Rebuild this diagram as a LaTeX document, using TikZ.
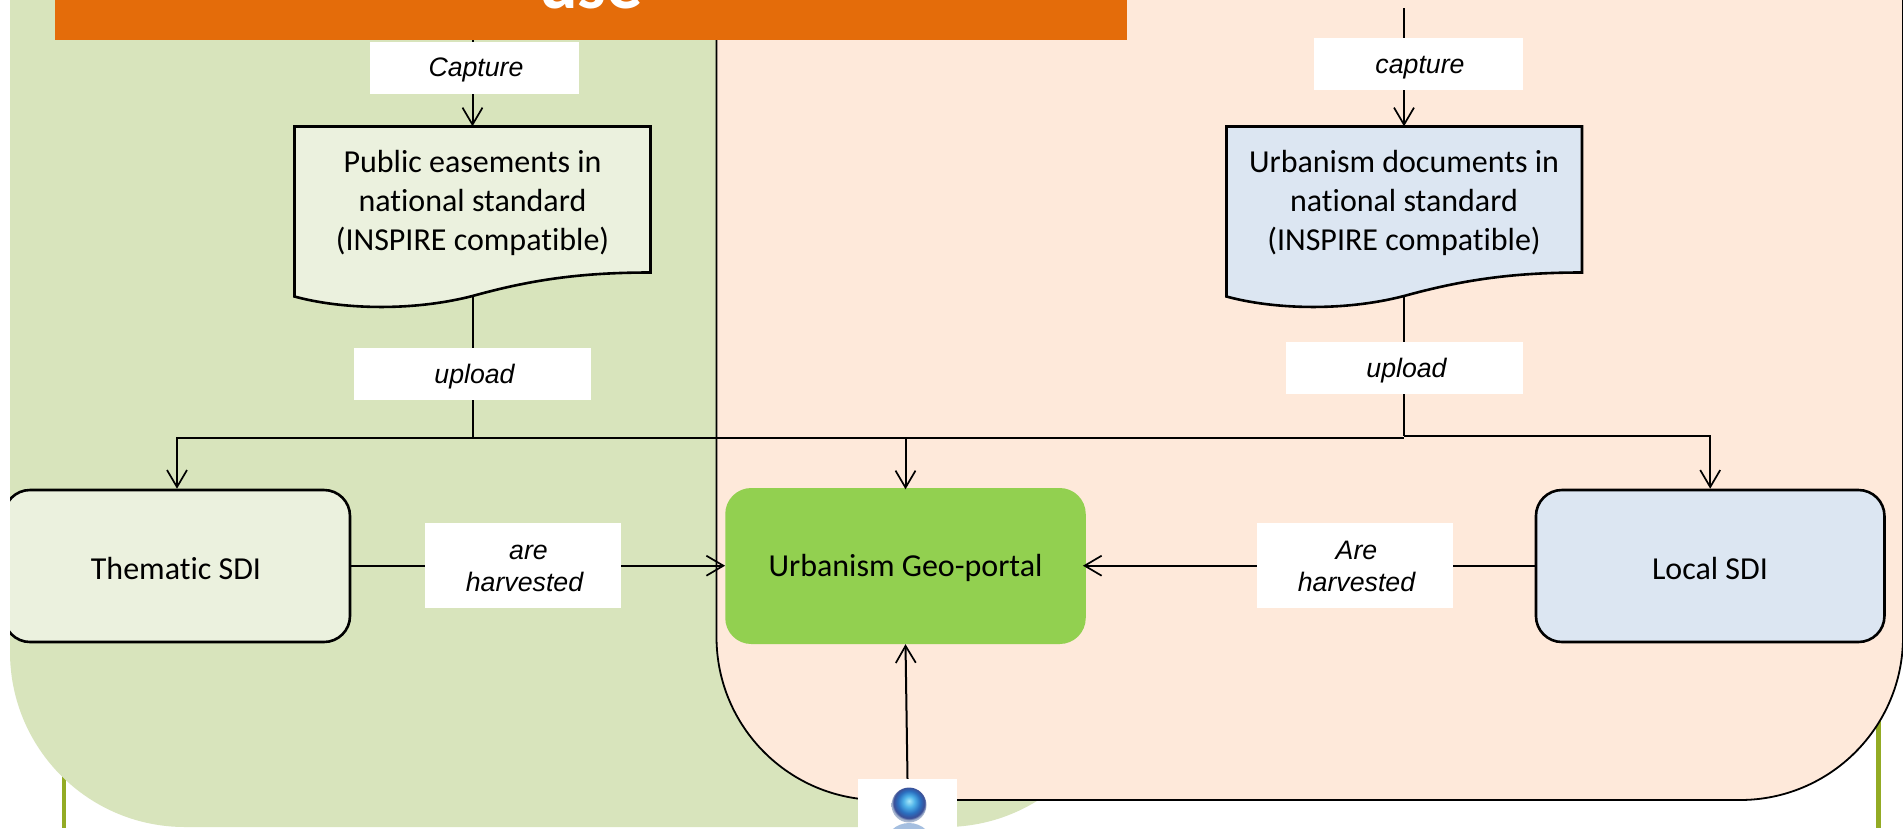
\documentclass[tikz,border=0pt]{standalone}
\usepackage{fontspec}
\setmainfont[Ligatures=NoCommon]{Carlito}
\newfontfamily\labelfont{Liberation Sans}
\usetikzlibrary{arrows.meta}
\definecolor{panelgreen}{HTML}{D8E4BC}
\definecolor{panelpeach}{HTML}{FEE9DA}
\definecolor{titleorange}{HTML}{E46C0A}
\definecolor{boxgreen}{HTML}{EBF1DE}
\definecolor{boxblue}{HTML}{DCE6F2}
\definecolor{portalgreen}{HTML}{92D050}
\definecolor{railgreen}{HTML}{93AB24}
\definecolor{ballhi}{HTML}{A8E8FA}
\definecolor{ballmid}{HTML}{4FB2E8}
\definecolor{balllow}{HTML}{2A6FC0}
\definecolor{balledge}{HTML}{3A4E96}
\definecolor{ballrim}{HTML}{A9B8D0}
\definecolor{userbody}{HTML}{A5BFE0}
\pgfdeclareradialshading{userball}{\pgfpoint{0bp}{6bp}}{%
  color(0bp)=(ballhi);
  color(8bp)=(ballmid);
  color(16bp)=(balllow);
  color(22bp)=(balledge);
  color(25bp)=(ballrim);
  color(50bp)=(ballrim)}
\tikzset{
  x=1pt,y=-1pt,
  conn/.style={draw=black,line width=2pt},
  arr/.style={conn,-{Straight Barb[length=17pt,width=20pt,line width=1.7pt]}},
  lblbox/.style={fill=white,inner sep=0pt},
  lbl/.style={inner sep=0pt,align=center,font=\labelfont\itshape\fontsize{26.7}{32}\selectfont},
  boxtext/.style={align=center,font=\fontsize{32}{39}\selectfont,inner sep=0pt},
  sdi/.style={draw=black,line width=2.6pt,rounded corners=26pt,inner sep=0pt,minimum height=152pt},
  docshape/.style={draw=black,line width=2.6pt},
  docnode/.style={inner sep=0pt,minimum width=356pt,minimum height=170pt}
}
\begin{document}
\begin{tikzpicture}
\useasboundingbox (0,0) rectangle (1903,828);
\begin{scope}
\clip (0,0) rectangle (1903,828);
\fill[white] (0,0) rectangle (1903,828);
% rails
\fill[railgreen] (62,700) rectangle (66,828);
\fill[railgreen] (1875.5,700) rectangle (1880.5,828);
% panels
\fill[panelgreen,rounded corners=175pt] (10,-300) rectangle (1120,827);
\filldraw[fill=panelpeach,draw=black,line width=1.8pt,rounded corners=163pt] (716.5,-300) rectangle (1903,800);
\draw[panelpeach,line width=1pt] (1903,-10) -- (1903,500);
% title
\node[fill=titleorange,minimum width=1072pt,minimum height=60pt,inner sep=0pt] (title) at (591,10) {};
\node[text=white,font=\bfseries\fontsize{72}{72}\selectfont,anchor=base,inner sep=0pt] (titletext) at (591,8) {use};
% documents
\coordinate (capl) at (472.5,40);
\coordinate (capr) at (1404,8);
\node[docnode] (doc1) at (472.5,211.5) {};
\draw[docshape,fill=boxgreen] (294.5,126.5) -- (650.5,126.5) -- (650.5,272.5) .. controls (580,272.5) and (530,280) .. (472.5,296) .. controls (410,312) and (340,309) .. (294.5,296.5) -- cycle;
\node[boxtext] (doc1t) at (472.5,203) {Public easements in\\national standard\\(INSPIRE compatible)};
\node[docnode] (doc2) at (1404,211.5) {};
\draw[docshape,fill=boxblue] (1226.5,126.5) -- (1582,126.5) -- (1582,272.5) .. controls (1512,272.5) and (1462,280) .. (1404,296) .. controls (1342,312) and (1272,309) .. (1226.5,296.5) -- cycle;
\node[boxtext] (doc2t) at (1404,203) {Urbanism documents in\\national standard\\(INSPIRE compatible)};
% SDI boxes
\begin{scope}
\clip (10,400) rectangle (400,700);
\node[sdi,fill=boxgreen,minimum width=346pt] (thematic) at (177,566) {};
\end{scope}
\node[boxtext] (thematict) at (176,568) {Thematic SDI};
\node[sdi,fill=boxblue,minimum width=348.5pt] (local) at (1710.2,566) {};
\node[boxtext] (localt) at (1710,568) {Local SDI};
\node[fill=portalgreen,rounded corners=26pt,minimum width=360.5pt,minimum height=156pt,inner sep=0pt] (portal) at (905.5,566) {};
\node[boxtext] (portalt) at (905.5,568) {Urbanism Geo-portal};
% bus
\coordinate (busl) at (472.5,438);
\coordinate (busr) at (1404,436);
\draw[conn] (doc1.south) -- (busl);
\draw[conn] (doc2.south) -- (busr);
\draw[arr] (busl) -- (busl -| thematic.north) -- (thematic.north);
\draw[conn] (busl) -- (1404,438);
\draw[arr] (busr) -- (busr -| local.north) -- (local.north);
\draw[arr] (portal.north |- busl) -- ([yshift=-1.5pt]portal.north);
% captures
\draw[conn] (capl) -- (472.5,60);
\draw[arr] (472.5,60) -- (doc1.north);
\draw[arr] (capr) -- (doc2.north);
\node[lblbox,minimum width=209pt,minimum height=52pt] (lcapl) at (474.5,68) {};
\node[lbl] (lcaplt) at (476,70) {Capture};
\node[lblbox,minimum width=209pt,minimum height=52pt] (lcapr) at (1418.5,64) {};
\node[lbl] (lcaprt) at (1420,68) {capture};
\node[lblbox,minimum width=237pt,minimum height=52pt] (lupl) at (472.5,374) {};
\node[lbl] (luplt) at (474.5,376.5) {upload};
\node[lblbox,minimum width=237pt,minimum height=52pt] (lupr) at (1404.5,367.5) {};
\node[lbl] (luprt) at (1406.5,371) {upload};
% harvested
\draw[arr] (thematic.east |- 0,565.7) -- (portal.west |- 0,565.7);
\draw[arr] (local.west |- 0,565.7) -- ([xshift=-3pt]portal.east |- 0,565.7);
\node[lblbox,minimum width=196pt,minimum height=85pt] (lhl) at (523,565.5) {};
\node[lbl] (lhlt) at (524.5,568) {\hspace*{8pt}are\\harvested};
\node[lblbox,minimum width=196pt,minimum height=85pt] (lhr) at (1355,565.5) {};
\node[lbl] (lhrt) at (1356.5,566) {Are\\harvested};
% user icon
\node[fill=white,minimum width=99pt,minimum height=60pt,inner sep=0pt] (user) at (907.5,809) {};
\draw[arr] (user.north) -- (portal.south);
\shade[shading=userball] (909,805) circle (17.5);
\fill[userbody] (909,846) ellipse (24 and 23);
\end{scope}
\end{tikzpicture}
\end{document}
